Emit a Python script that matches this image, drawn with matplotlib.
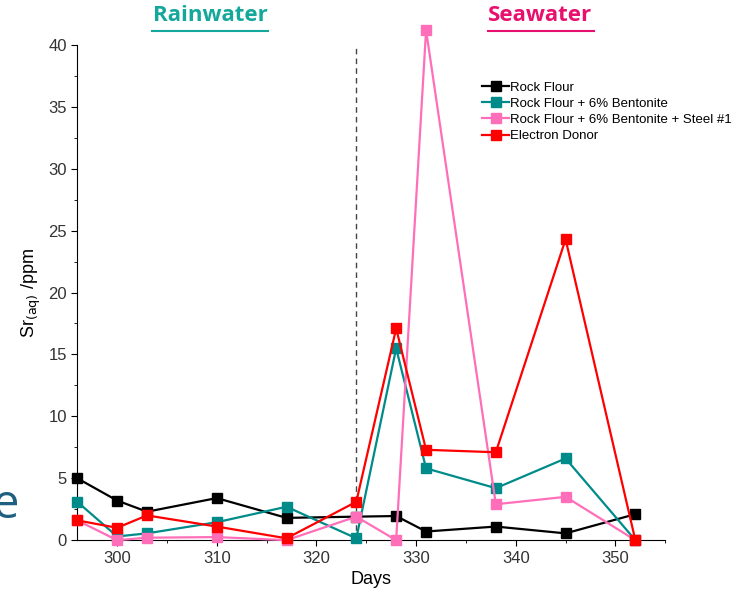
import matplotlib.pyplot as plt
from matplotlib.lines import Line2D
from matplotlib.ticker import MultipleLocator

plt.rcParams['font.family'] = ['Liberation Sans', 'DejaVu Sans']

days = [296, 300, 303, 310, 317, 324, 328, 331, 338, 345, 352]
rock_flour = [5.0, 3.2, 2.3, 3.4, 1.8, 1.9, 1.95, 0.7, 1.1, 0.55, 2.1]
bentonite = [3.1, 0.3, 0.55, 1.45, 2.7, 0.15, 15.5, 5.8, 4.2, 6.6, 0.0]
steel = [1.6, 0.0, 0.2, 0.25, 0.0, 1.9, 0.0, 41.2, 2.9, 3.5, 0.0]
donor = [1.6, 1.0, 2.0, 1.1, 0.15, 3.1, 17.1, 7.3, 7.1, 24.3, 0.0]

labels = ["Rock Flour", "Rock Flour + 6% Bentonite",
          "Rock Flour + 6% Bentonite + Steel #1", "Electron Donor"]
colors = ["#000000", "#008B8B", "#FF6EB8", "#FF0000"]
switch_day = 324

fig = plt.figure(figsize=(7.5, 5.91), dpi=100)
ax = fig.add_axes([0.103, 0.086, 0.784, 0.838])

for vals, lab, col in zip([rock_flour, bentonite, steel, donor], labels, colors):
    ax.plot(days, vals, color=col, marker="s", markersize=7, lw=1.6,
            label=lab, clip_on=False, zorder=3)

ax.axvline(switch_day, color="#444444", ls=(0, (4, 3)), lw=1)

ax.set_xlim(296, 355)
ax.set_ylim(0, 40)
ax.xaxis.set_major_locator(MultipleLocator(10))
ax.xaxis.set_minor_locator(MultipleLocator(5))
ax.yaxis.set_major_locator(MultipleLocator(5))
ax.yaxis.set_minor_locator(MultipleLocator(2.5))
ax.spines["top"].set_visible(False)
ax.spines["right"].set_visible(False)
ax.tick_params(labelsize=12, labelcolor="#333333", length=4)
ax.tick_params(which="minor", length=2)

ax.set_xlabel("Days", fontsize=13)
ax.set_ylabel("Sr$_{\\mathrm{(aq)}}$ /ppm", fontsize=13)

ax.legend(loc="upper left", bbox_to_anchor=(0.68, 0.937), frameon=False,
          fontsize=9.5, handlelength=2.0, handletextpad=0.1,
          labelspacing=0.3, borderaxespad=0)

fig.text(0.28, 0.974, "Rainwater", color="#14A89C", fontsize=16,
         fontweight="bold", ha="center", va="center", family="Open Sans")
fig.text(0.72, 0.974, "Seawater", color="#E8106E", fontsize=16,
         fontweight="bold", ha="center", va="center", family="Open Sans")
fig.add_artist(Line2D([0.203, 0.357], [0.948, 0.948], color="#14A89C", lw=1.5))
fig.add_artist(Line2D([0.651, 0.792], [0.948, 0.948], color="#E8106E", lw=1.5))

fig.text(-0.01, 0.145, "e", color="#1F5F7F", fontsize=34, va="center",
         family="Open Sans")

fig.savefig("out.png", dpi=100)
